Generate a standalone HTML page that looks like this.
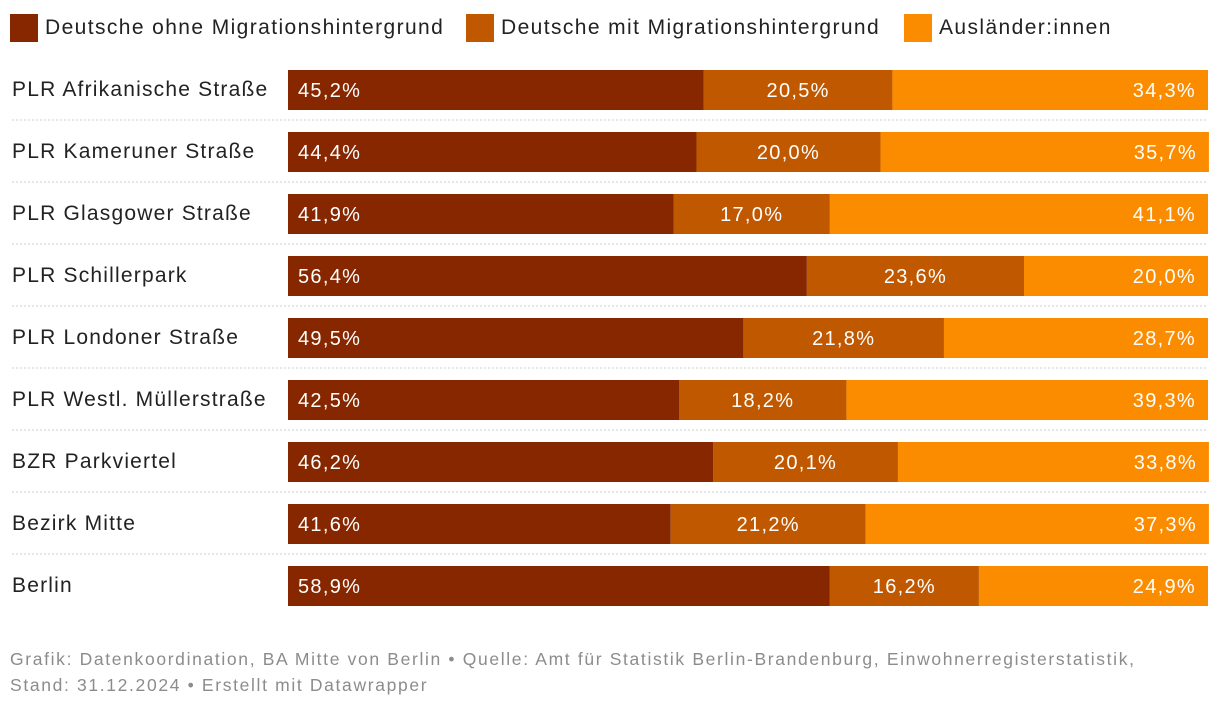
<!DOCTYPE html>
<html><head><meta charset="utf-8"><style>
body{margin:0;width:1220px;height:708px;background:#fff;font-family:"Liberation Sans",sans-serif;overflow:hidden;position:relative}
.leg{position:absolute;top:14px;height:28px;font-size:21px;color:#222;line-height:28px;letter-spacing:1.4px;white-space:nowrap}
.leg span{display:inline-block;width:28px;height:28px;vertical-align:top;margin-right:7px}
.foot{position:absolute;left:10px;top:646px;font-size:17.5px;color:#8c8c8c;line-height:26px;letter-spacing:1.65px;white-space:nowrap}
</style></head><body>
<div class="leg" style="left:10px"><span style="background:#862700"></span>Deutsche ohne Migrationshintergrund</div>
<div class="leg" style="left:466px"><span style="background:#c05800"></span>Deutsche mit Migrationshintergrund</div>
<div class="leg" style="left:904px"><span style="background:#fb8c00"></span>Ausländer:innen</div>
<svg id="chart" width="1220" height="640" style="position:absolute;left:0;top:0"></svg>
<div class="foot">Grafik: Datenkoordination, BA Mitte von Berlin • Quelle: Amt für Statistik Berlin-Brandenburg, Einwohnerregisterstatistik,<br>Stand: 31.12.2024 • Erstellt mit Datawrapper</div>
<script>
const categories=["PLR Afrikanische Straße","PLR Kameruner Straße","PLR Glasgower Straße","PLR Schillerpark","PLR Londoner Straße","PLR Westl. Müllerstraße","BZR Parkviertel","Bezirk Mitte","Berlin"];
const ohne=[45.2,44.4,41.9,56.4,49.5,42.5,46.2,41.6,58.9];
const mit=[20.5,20.0,17.0,23.6,21.8,18.2,20.1,21.2,16.2];
const ausl=[34.3,35.7,41.1,20.0,28.7,39.3,33.8,37.3,24.9];
const colors=["#862700","#c05800","#fb8c00"];
const NS="http://www.w3.org/2000/svg";
const svg=document.getElementById("chart");
const x0=288,x1=1208;
function xs(v){return v/100*(x1-x0);}
function yRow(i){return 70+i*62;}
function fmt(v){return v.toFixed(1).replace(".",",")+"%";}
categories.forEach((c,i)=>{
  const y=yRow(i);
  const t=document.createElementNS(NS,"text");
  
  
  t.setAttribute("x",12);t.setAttribute("y",y+26);t.setAttribute("font-size","21");t.setAttribute("fill","#222");t.setAttribute("letter-spacing","1.2");
  t.textContent=c;svg.appendChild(t);
  if(i<categories.length-1){
    const l=document.createElementNS(NS,"line");
    
    
    l.setAttribute("x1",12);l.setAttribute("x2",1208);l.setAttribute("y1",y+50);l.setAttribute("y2",y+50);
    l.setAttribute("stroke","#ccc");l.setAttribute("stroke-dasharray","2,2");svg.appendChild(l);
  }
  const vals=[ohne[i],mit[i],ausl[i]];
  let cx=x0;
  vals.forEach((v,k)=>{
    const w=xs(v);
    const r=document.createElementNS(NS,"rect");
    
    
    r.setAttribute("x",cx);r.setAttribute("y",y);r.setAttribute("width",w);r.setAttribute("height",40);r.setAttribute("fill",colors[k]);
    svg.appendChild(r);
    const lt=document.createElementNS(NS,"text");
    
    
    lt.setAttribute("y",y+27);lt.setAttribute("font-size","20");lt.setAttribute("fill","#fff");lt.setAttribute("letter-spacing","1.3");
    if(k==0){lt.setAttribute("x",cx+10);}
    else if(k==1){lt.setAttribute("x",cx+w/2);lt.setAttribute("text-anchor","middle");}
    else{lt.setAttribute("x",cx+w-12);lt.setAttribute("text-anchor","end");}
    lt.textContent=fmt(v);svg.appendChild(lt);
    cx+=w;
  });
});
</script>
</body></html>
